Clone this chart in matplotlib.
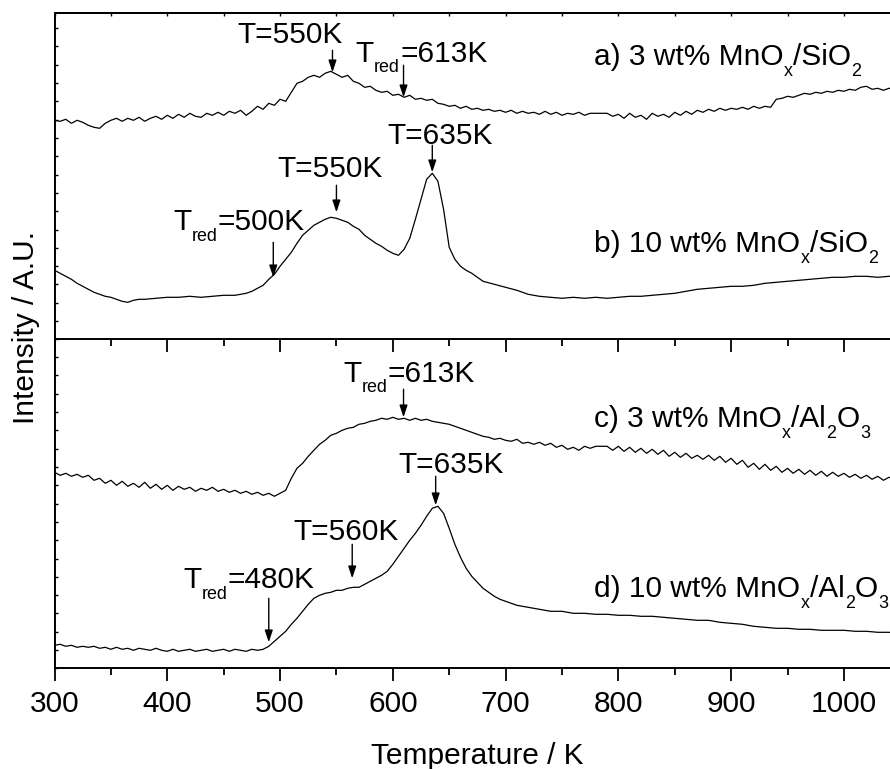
import re
import matplotlib
matplotlib.use("Agg")
import matplotlib.pyplot as plt
from matplotlib.ticker import MultipleLocator

plt.rcParams['font.family'] = ['Liberation Sans', 'DejaVu Sans']

# ---- data (temperature in K, intensity in arbitrary units) ----
# a) 3 wt% MnOx/SiO2
temp_a = [300, 305, 310, 315, 320, 325, 330, 335, 340, 345, 350, 355, 360, 365, 370,
          375, 380, 385, 390, 395, 400, 405, 410, 415, 420, 425, 430, 435, 440, 445,
          450, 455, 460, 465, 470, 475, 480, 485, 490, 495, 500, 505, 510, 515, 520,
          525, 530, 535, 540, 545, 550, 555, 560, 565, 570, 575, 580, 585, 590, 595,
          600, 605, 610, 615, 620, 625, 630, 635, 640, 645, 650, 655, 660, 665, 670,
          675, 680, 685, 690, 695, 700, 705, 710, 715, 720, 725, 730, 735, 740, 745,
          750, 755, 760, 765, 770, 775, 780, 790, 795, 800, 805, 810, 815, 820, 825,
          830, 835, 840, 845, 850, 855, 860, 865, 870, 875, 880, 885, 890, 895, 900,
          905, 910, 915, 920, 925, 930, 935, 940, 945, 950, 955, 960, 965, 970, 975,
          980, 985, 990, 995, 1000, 1005, 1010, 1015, 1020, 1025, 1030, 1035, 1040, 1045, 1050]
int_a = [219, 218, 220, 216, 219, 217, 214, 212, 211, 216, 219, 221, 218, 221, 219,
         222, 218, 221, 223, 220, 224, 221, 225, 222, 226, 223, 222, 226, 224, 227,
         224, 228, 226, 229, 224, 228, 233, 230, 236, 234, 240, 238, 247, 256, 258,
         262, 264, 262, 266, 268, 265, 262, 264, 258, 256, 252, 253, 249, 247, 248,
         244, 245, 242, 244, 240, 241, 239, 240, 236, 235, 233, 234, 231, 233, 230,
         231, 229, 230, 228, 229, 227, 229, 226, 228, 226, 227, 225, 228, 225, 227,
         224, 226, 225, 227, 224, 226, 226, 226, 223, 225, 221, 226, 222, 224, 220,
         226, 223, 225, 222, 227, 224, 228, 225, 229, 227, 230, 228, 231, 229, 231,
         230, 232, 230, 233, 231, 233, 232, 240, 241, 243, 242, 244, 246, 245, 247,
         246, 248, 247, 249, 248, 250, 249, 252, 253, 250, 251, 249, 251, 250, 251]

# b) 10 wt% MnOx/SiO2
temp_b = [300, 305, 310, 315, 320, 325, 330, 335, 340, 345, 350, 355, 360, 365, 370,
          375, 380, 390, 400, 410, 420, 430, 440, 450, 460, 470, 475, 480, 485, 490,
          495, 500, 505, 510, 515, 520, 525, 530, 535, 540, 545, 550, 555, 560, 565,
          570, 575, 580, 585, 590, 595, 600, 605, 610, 615, 620, 625, 630, 635, 640,
          645, 650, 655, 660, 665, 670, 680, 690, 700, 710, 720, 730, 740, 750, 760,
          770, 780, 790, 800, 810, 820, 830, 840, 850, 860, 870, 880, 890, 900, 910,
          920, 930, 940, 950, 960, 970, 980, 990, 1000, 1010, 1020, 1030, 1040, 1050]
int_b = [69, 66, 63, 60, 56, 53, 50, 47, 45, 43, 42, 40, 38, 37, 39,
         40, 40, 41, 42, 42, 43, 42, 43, 44, 44, 46, 48, 51, 54, 60,
         65, 73, 80, 87, 96, 104, 109, 114, 117, 120, 122, 121, 119, 117, 113,
         110, 104, 100, 96, 93, 89, 86, 84, 90, 101, 120, 140, 160, 166, 158,
         130, 92, 80, 73, 69, 66, 58, 55, 52, 49, 45, 43, 42, 41, 42,
         41, 42, 41, 42, 43, 43, 44, 45, 46, 48, 50, 51, 52, 53, 53,
         54, 56, 57, 58, 59, 60, 61, 62, 62, 63, 63, 62, 63, 63]

# c) 3 wt% MnOx/Al2O3 (same temperature steps as a)
temp_c = temp_a
int_c = [196, 193, 195, 192, 194, 191, 193, 188, 190, 185, 188, 183, 187, 182, 185,
         181, 186, 180, 184, 179, 183, 178, 182, 179, 181, 177, 180, 178, 181, 177,
         179, 176, 178, 175, 177, 174, 176, 173, 175, 172, 175, 178, 190, 200, 205,
         212, 218, 224, 228, 233, 235, 238, 240, 241, 244, 245, 247, 248, 250, 249,
         251, 249, 250, 248, 250, 248, 249, 247, 246, 245, 244, 242, 240, 238, 236,
         234, 232, 231, 229, 230, 228, 227, 229, 225, 226, 224, 226, 223, 225, 221,
         223, 219, 221, 218, 222, 220, 222, 222, 218, 222, 217, 221, 216, 220, 215,
         219, 214, 218, 212, 216, 211, 215, 210, 213, 209, 213, 208, 212, 206, 210,
         204, 208, 201, 205, 199, 204, 198, 202, 196, 200, 195, 199, 194, 198, 193,
         197, 192, 196, 192, 195, 191, 194, 190, 193, 189, 192, 188, 191, 189, 190]

# d) 10 wt% MnOx/Al2O3
temp_d = [300, 305, 310, 315, 320, 325, 330, 335, 340, 345, 350, 355, 360, 365, 370,
          375, 380, 385, 390, 395, 400, 405, 410, 415, 420, 425, 430, 435, 440, 445,
          450, 455, 460, 465, 470, 475, 480, 485, 490, 495, 500, 505, 510, 515, 520,
          525, 530, 535, 540, 545, 550, 555, 560, 565, 570, 575, 580, 585, 590, 595,
          600, 605, 610, 615, 620, 625, 630, 635, 640, 645, 650, 655, 660, 665, 670,
          675, 680, 685, 690, 695, 700, 705, 710, 720, 730, 740, 750, 760, 770, 780,
          790, 800, 810, 820, 830, 840, 850, 860, 870, 880, 890, 900, 910, 920, 930,
          940, 950, 960, 970, 980, 990, 1000, 1010, 1020, 1030, 1040, 1050]
int_d = [23, 24, 22, 23, 21, 22, 21, 22, 20, 21, 19, 21, 19, 20, 18,
         20, 19, 18, 20, 18, 17, 19, 17, 18, 19, 17, 18, 19, 17, 18,
         19, 17, 19, 18, 17, 19, 18, 19, 22, 27, 32, 37, 44, 50, 57,
         64, 70, 73, 75, 76, 78, 78, 80, 81, 81, 84, 87, 90, 93, 97,
         104, 112, 120, 128, 135, 143, 152, 160, 162, 155, 140, 124, 111, 100, 92,
         86, 80, 76, 72, 69, 67, 65, 63, 61, 59, 57, 57, 55, 55, 54,
         54, 53, 53, 52, 52, 51, 50, 49, 48, 48, 46, 45, 44, 42, 41,
         40, 40, 39, 39, 38, 38, 38, 37, 37, 36, 36, 35]

# sample labels, _{..} marks a subscript
labels_top = ['a) 3 wt% MnO_{x}/SiO_{2}', 'b) 10 wt% MnO_{x}/SiO_{2}']
labels_bot = ['c) 3 wt% MnO_{x}/Al_{2}O_{3}', 'd) 10 wt% MnO_{x}/Al_{2}O_{3}']

# peak annotations: (text, text_x, text_y, arrow_T, arrow_from, arrow_to)
notes_top = [
    ('T=550K', 509, 296, 546.5, 289, 267),
    ('T_{red}=613K', 567, 277.6, 609.5, 274, 242),
    ('T=635K', 595, 195, 635, 194, 167),
    ('T=550K', 498, 162, 550, 154, 127),
    ('T_{red}=500K', 405, 109, 494, 97, 62),
]
notes_bot = [
    ('T_{red}=613K', 556, 286.6, 609.5, 279, 251),
    ('T=635K', 605, 195, 638, 192, 163),
    ('T=560K', 512, 128, 564, 124, 90),
    ('T_{red}=480K', 414, 80, 490, 70, 26),
]

FS = 21.5
SUB = 0.6
W, H = 890, 769


def rich_text(ax, x, y, s, fs, ha='left'):
    # draw text piece by piece so that subscripts sit low like in the original
    parts = re.split(r'_\{([^}]*)\}', s)
    first = ax.text(x, y, parts[0], fontsize=fs, va='baseline', ha=ha)
    prev = first
    for i, p in enumerate(parts[1:], start=1):
        if not p:
            continue
        sub = i % 2 == 1
        prev = ax.annotate(p, xy=(1, 0), xycoords=(prev, first),
                           xytext=(0.3 if sub else 0, -6 if sub else 0),
                           textcoords='offset points',
                           fontsize=fs * SUB if sub else fs,
                           va='bottom', ha='left')
    return first


fig = plt.figure(figsize=(W / 100, H / 100), dpi=100)
x0 = 54.5 / W
aw = 845.8 / W
ax2 = fig.add_axes([x0, (H - 668.3) / H, aw, 329.0 / H])
ax1 = fig.add_axes([x0, (H - 339.3) / H, aw, 326.6 / H])

ax1.plot(temp_a, int_a, color='k', lw=0.9)
ax1.plot(temp_b, int_b, color='k', lw=0.9)
ax2.plot(temp_c, int_c, color='k', lw=0.9)
ax2.plot(temp_d, int_d, color='k', lw=0.9)

ax1.set_ylim(0, 326.6)
ax2.set_ylim(0, 329.0)

for ax in (ax1, ax2):
    ax.set_xlim(300, 1050)
    ax.xaxis.set_major_locator(MultipleLocator(100))
    ax.xaxis.set_minor_locator(MultipleLocator(50))
    ax.yaxis.set_major_locator(MultipleLocator(18.3))
    ax.tick_params(axis='y', which='both', direction='in', length=1.8, width=1.0,
                   left=True, right=False, labelleft=False)
    for s in ax.spines.values():
        s.set_linewidth(1.4)

ax1.tick_params(axis='x', which='major', direction='out', length=9.4, width=1.3,
                bottom=True, top=False, labelbottom=False)
ax1.tick_params(axis='x', which='minor', direction='out', length=5, width=1.3,
                bottom=True, top=False)

# small inward ticks on the top spine of the upper panel
ax1_top = ax1.secondary_xaxis('top')
ax1_top.xaxis.set_major_locator(MultipleLocator(50))
ax1_top.tick_params(direction='in', length=1.8, width=1.0, labeltop=False)
ax1_top.spines['top'].set_linewidth(1.4)

ax2.spines['top'].set_visible(False)
ax2.tick_params(axis='x', which='major', direction='out', length=9.4, width=1.3,
                top=False, labelsize=FS, pad=6)
ax2.tick_params(axis='x', which='minor', direction='out', length=5, width=1.3, top=False)

for ax, labels, ys in ((ax1, labels_top, (274, 87)), (ax2, labels_bot, (241, 71))):
    for lab, y in zip(labels, ys):
        rich_text(ax, 778.5, y, lab, FS)

arrow_style = dict(arrowstyle='-|>,head_length=0.6,head_width=0.2', color='k',
                   lw=1.0, mutation_scale=12, shrinkA=0, shrinkB=0)
for ax, notes in ((ax1, notes_top), (ax2, notes_bot)):
    for txt, tx, ty, at, a0, a1 in notes:
        ha = 'center' if txt == 'T=550K' and ty > 250 else 'left'
        rich_text(ax, tx, ty, txt, FS, ha=ha)
        ax.annotate('', xy=(at, a1), xytext=(at, a0), arrowprops=arrow_style)

fig.text(477 / W, 5.5 / H, 'Temperature / K', fontsize=FS, ha='center', va='baseline')
fig.text(12 / W, (H - 327) / H, 'Intensity / A.U.', fontsize=FS, rotation=90,
         ha='left', va='center')

fig.savefig('out.png', dpi=100)
